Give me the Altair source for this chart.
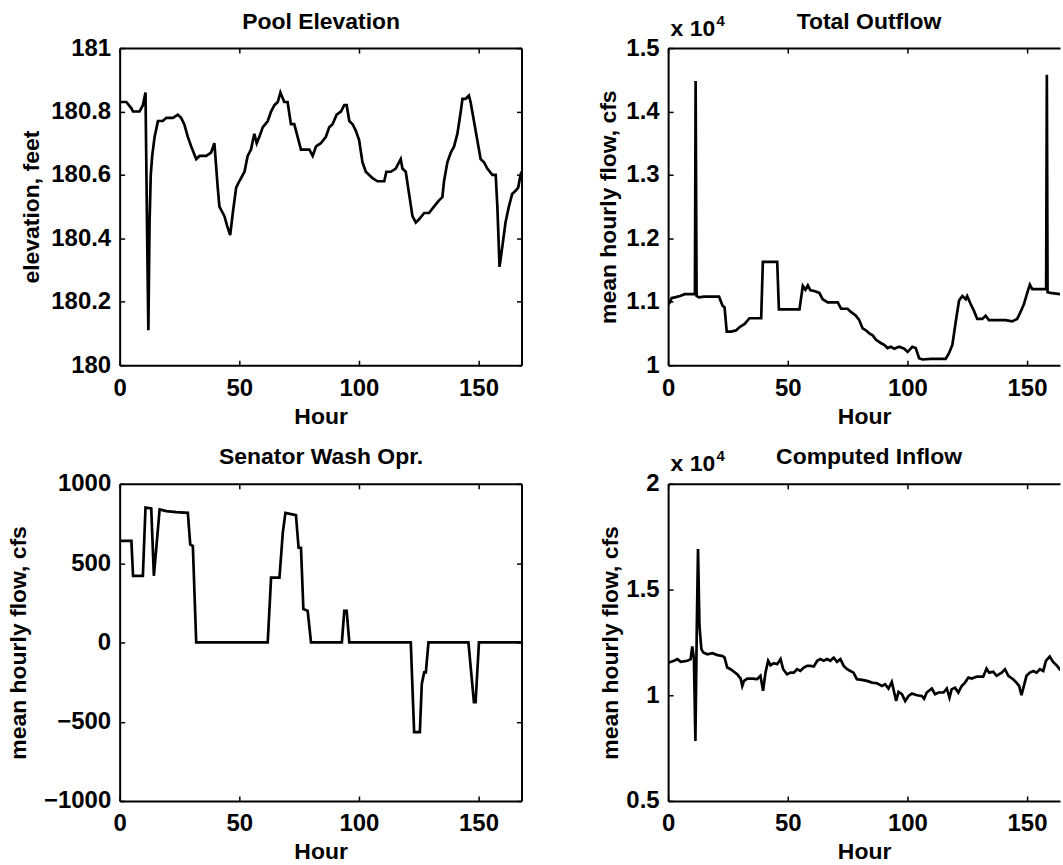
import altair as alt
import pandas as pd

# ---------------- data ----------------
pool_hours = [0.3, 2.8, 4.9, 5.6, 8.3, 9.7, 10.8, 11.5, 12.0, 12.5, 13.0, 13.6, 14.6, 16.0, 18.0,
              19.5, 22.3, 24.3, 25.7, 27.0, 28.5, 29.9, 32.0, 33.4, 36.2, 38.2, 39.6, 40.3, 41.0,
              41.7, 43.8, 44.9, 46.2, 47.3, 48.7, 50.0, 52.2, 53.5, 54.9, 56.3, 57.3, 58.4, 59.8,
              61.9, 63.3, 64.7, 66.1, 67.2, 68.8, 70.2, 71.6, 73.0, 74.4, 75.8, 77.9, 79.3, 80.7,
              82.1, 84.1, 86.2, 87.6, 89.0, 90.7, 92.5, 93.9, 94.9, 96.0, 97.4, 98.7, 100.1, 101.5,
              102.9, 104.3, 105.7, 107.8, 110.6, 111.5, 113.4, 115.4, 117.5, 118.2, 119.6, 121.0,
              122.4, 123.8, 125.2, 127.3, 129.3, 131.4, 133.5, 134.9, 135.6, 137.0, 138.4, 139.8,
              141.2, 142.6, 143.3, 144.6, 146.0, 146.7, 148.1, 149.5, 150.9, 152.3, 153.7, 155.8,
              157.2, 157.9, 158.8, 159.9, 161.3, 162.7, 164.1, 165.5, 166.6, 167.6, 168.0]
pool_elev = [180.83, 180.83, 180.81, 180.80, 180.80, 180.82, 180.86, 180.40, 180.11, 180.45, 180.60,
             180.66, 180.72, 180.77, 180.77, 180.78, 180.78, 180.79, 180.78, 180.76, 180.72, 180.69,
             180.65, 180.66, 180.66, 180.67, 180.70, 180.63, 180.56, 180.50, 180.47, 180.44, 180.41,
             180.48, 180.56, 180.58, 180.61, 180.66, 180.68, 180.73, 180.70, 180.72, 180.75, 180.77,
             180.80, 180.82, 180.83, 180.86, 180.83, 180.83, 180.76, 180.76, 180.72, 180.68, 180.68,
             180.68, 180.66, 180.69, 180.70, 180.72, 180.75, 180.76, 180.79, 180.80, 180.82, 180.82,
             180.77, 180.76, 180.74, 180.71, 180.64, 180.61, 180.60, 180.59, 180.58, 180.58, 180.61,
             180.61, 180.62, 180.65, 180.62, 180.61, 180.54, 180.47, 180.45, 180.46, 180.48, 180.48,
             180.50, 180.52, 180.53, 180.58, 180.64, 180.67, 180.69, 180.73, 180.80, 180.84, 180.84,
             180.85, 180.83, 180.77, 180.71, 180.65, 180.64, 180.62, 180.60, 180.60, 180.50, 180.31,
             180.37, 180.45, 180.50, 180.54, 180.55, 180.56, 180.60, 180.61]

outflow_hours = [0.0, 0.7, 1.5, 2.8, 5.0, 6.9, 11.2, 11.5, 11.9, 12.9, 15.0, 21.3, 22.7, 23.6, 24.5,
                 26.4, 28.5, 29.9, 32.0, 34.0, 38.9, 39.6, 45.6, 46.3, 54.9, 56.3, 57.4, 58.4, 59.5,
                 61.1, 63.2, 64.6, 66.7, 70.9, 72.3, 75.0, 76.4, 78.5, 79.9, 81.3, 82.7, 84.1, 85.5,
                 86.9, 88.9, 90.3, 91.7, 93.1, 94.5, 96.6, 98.7, 100.1, 102.1, 103.5, 104.9, 106.3,
                 109.8, 116.0, 117.4, 118.8, 120.2, 121.6, 123.0, 124.4, 125.0, 126.5, 127.8, 129.2,
                 131.3, 132.7, 134.1, 137.6, 141.0, 143.8, 145.9, 147.3, 148.7, 150.1, 151.2, 152.2,
                 155.6, 158.0, 158.3, 158.6, 159.8, 163.8]
outflow_cfs = [10960, 10990, 11060, 11070, 11090, 11120, 11120, 14480, 11090, 11070, 11080, 11080,
               10940, 10910, 10530, 10530, 10550, 10600, 10650, 10740, 10740, 11630, 11630, 10880,
               10880, 11250, 11190, 11260, 11180, 11170, 11140, 11040, 10990, 10990, 10890, 10890,
               10840, 10780, 10710, 10580, 10550, 10500, 10470, 10400, 10350, 10320, 10270, 10290,
               10260, 10290, 10260, 10210, 10290, 10270, 10110, 10090, 10100, 10100, 10190, 10320,
               10680, 11020, 11090, 11040, 11090, 10960, 10860, 10730, 10730, 10780, 10710, 10710,
               10710, 10690, 10730, 10840, 10960, 11140, 11270, 11200, 11200, 11200, 14580, 11150,
               11140, 11120]

senator_hours = [0.0, 4.9, 5.6, 9.7, 10.8, 13.2, 14.3, 16.7, 19.5, 23.6, 28.5, 29.5, 30.6, 32.0,
                 61.9, 63.3, 66.8, 68.2, 69.3, 73.7, 74.8, 75.8, 76.8, 78.6, 80.0, 92.9, 93.9, 94.9,
                 96.0, 121.7, 123.1, 125.5, 126.3, 127.3, 128.0, 129.1, 145.8, 148.1, 148.8, 150.2,
                 168.0]
senator_cfs = [640, 640, 420, 420, 850, 845, 420, 838, 828, 822, 817, 618, 608, 0,
               0, 409, 409, 692, 817, 803, 597, 597, 210, 199, 0, 0, 199, 199,
               0, 0, -566, -566, -262, -189, -189, 0, 0, -377, -377, 0,
               0]

inflow_hours = [0.0, 0.4, 2.5, 3.9, 5.3, 8.1, 9.4, 10.1, 10.8, 11.4, 12.0, 12.5, 13.1, 13.9, 14.7,
                16.4, 18.5, 20.6, 22.7, 23.6, 24.7, 26.1, 27.5, 28.9, 30.3, 31.0, 31.7, 33.1, 35.2,
                37.2, 38.6, 39.7, 40.7, 41.8, 42.8, 44.2, 45.6, 47.0, 48.1, 49.7, 51.1, 52.5, 53.9,
                55.3, 56.7, 58.1, 59.5, 60.9, 62.3, 63.6, 65.0, 66.4, 67.8, 69.2, 70.6, 72.0, 73.4,
                74.8, 76.2, 77.5, 78.9, 81.0, 83.1, 85.2, 87.3, 89.4, 90.7, 92.1, 93.5, 94.5, 95.3,
                96.3, 97.7, 99.1, 100.5, 101.9, 104.0, 106.0, 107.0, 108.1, 110.2, 111.6, 113.0,
                115.1, 116.5, 117.6, 118.5, 119.9, 121.3, 122.7, 124.1, 125.5, 126.9, 129.0, 131.7,
                133.1, 134.2, 135.9, 137.3, 139.4, 140.8, 142.2, 144.2, 145.6, 146.7, 147.7, 148.7,
                149.8, 151.2, 152.6, 154.0, 155.4, 156.8, 157.9, 159.5, 160.9, 162.6, 163.7, 164.5]
inflow_cfs = [11550, 11550, 11630, 11710, 11580, 11630, 11710, 12310, 11710, 7840, 13290, 16920,
              13290, 12180, 12020, 11940, 11990, 11900, 11860, 11780, 11310, 11230, 11110, 10990,
              10790, 10440, 10680, 10790, 10790, 10760, 10920, 10210, 11070, 11630, 11420, 11520,
              11470, 11710, 11230, 10990, 11070, 11070, 11230, 11150, 11310, 11390, 11390, 11360,
              11630, 11710, 11630, 11710, 11630, 11780, 11580, 11710, 11390, 11230, 11150, 11070,
              10760, 10730, 10680, 10600, 10570, 10440, 10520, 10320, 10630, 10130, 9730, 10160,
              10050, 9730, 9970, 10080, 10000, 9970, 9840, 10130, 10320, 10050, 10130, 10130,
              10320, 9890, 10280, 10360, 10130, 10440, 10600, 10840, 10790, 10880, 10880, 11260,
              11070, 11110, 10920, 11070, 11230, 10920, 10760, 10600, 10440, 10000, 10440, 10920,
              11070, 11150, 11070, 11230, 11150, 11630, 11830, 11580, 11390, 11230, 11150]

x_ticks = [0, 50, 100, 150]
pool_ticks = [180, 180.2, 180.4, 180.6, 180.8, 181]
outflow_ticks = [10000, 11000, 12000, 13000, 14000, 15000]
senator_ticks = [-1000, -500, 0, 500, 1000]
inflow_ticks = [5000, 10000, 15000, 20000]

FONT = "Liberation Sans"
LABEL_FS = 24
TITLE_FS = 23
WEIGHT = "bold"
BLACK = "black"
PANEL_H = 318


def table(hours, vals):
    return pd.DataFrame({"h": hours, "v": vals, "i": list(range(len(hours)))})


def style(**kw):
    d = dict(grid=False, labelFont=FONT, labelFontSize=LABEL_FS, labelColor=BLACK,
             labelFontWeight=WEIGHT,
             titleFont=FONT, titleFontSize=TITLE_FS, titleColor=BLACK, titleFontWeight=WEIGHT,
             domainColor=BLACK, domainWidth=2, tickColor=BLACK, tickWidth=1.5)
    d.update(kw)
    return alt.Axis(**d)


def make_panel(df, title, title_x, ydom, yticks, ytitle, ytitle_x, xmax, width, label_expr,
               full_frame, sci):
    xs = alt.Scale(domain=[0, xmax], nice=False, zero=False)
    ys = alt.Scale(domain=ydom, nice=False, zero=False)
    base = alt.Chart(df)
    order = alt.Order("i:Q")

    # A: the data line with labelled axes and left/bottom frame lines
    a = base.mark_line(color=BLACK, strokeWidth=2.7, clip=True).encode(
        x=alt.X("h:Q", scale=xs, axis=style(
            orient="bottom", values=x_ticks, ticks=False, domain=True, labelPadding=11,
            labelFlush=False, labelOverlap=False, title="Hour", titleY=51,
            titleBaseline="middle")),
        y=alt.Y("v:Q", scale=ys, axis=style(
            orient="left", values=yticks, ticks=False, domain=True, labelPadding=9,
            labelFlush=False, labelOverlap=False, labelExpr=label_expr, title=ytitle,
            titleX=ytitle_x, titleBaseline="middle")),
        order=order,
    )

    # B: inward ticks on the bottom and left sides
    b = base.mark_line(strokeOpacity=0).encode(
        x=alt.X("h:Q", scale=xs, axis=style(
            orient="bottom", offset=-5, values=x_ticks, ticks=True, tickSize=5,
            domain=False, labels=False, title=None)),
        y=alt.Y("v:Q", scale=ys, axis=style(
            orient="left", offset=-5, values=yticks, ticks=True, tickSize=5,
            domain=False, labels=False, title=None)),
        order=order,
    )

    # C: inward ticks on the top (and right) sides; carries the "x 10" multiplier
    top_c = dict(orient="top", offset=-5, values=x_ticks, ticks=True, tickSize=5,
                 domain=False, labels=False)
    if sci:
        top_c.update(title="x 10", titleX=2, titleY=-25, titleAlign="left", titleAngle=0,
                     titleBaseline="middle")
    else:
        top_c.update(title=None)
    if full_frame:
        yc = alt.Y("v:Q", scale=ys, axis=style(
            orient="right", offset=-5, values=yticks, ticks=True, tickSize=5,
            domain=False, labels=False, title=None))
    else:
        yc = alt.Y("v:Q", scale=ys, axis=None)
    c = base.mark_line(strokeOpacity=0).encode(
        x=alt.X("h:Q", scale=xs, axis=style(**top_c)), y=yc, order=order)

    # D: top (and right) frame lines; carries the panel title
    top_d = dict(orient="top", ticks=False, domain=True, labels=False, title=title,
                 titleX=title_x, titleY=-27, titleAlign="center", titleAngle=0,
                 titleBaseline="middle")
    if full_frame:
        yd = alt.Y("v:Q", scale=ys, axis=style(
            orient="right", ticks=False, domain=True, labels=False, title=None))
    else:
        yd = alt.Y("v:Q", scale=ys, axis=None)
    d = base.mark_line(strokeOpacity=0).encode(
        x=alt.X("h:Q", scale=xs, axis=style(**top_d)), y=yd, order=order)

    layers = [a, b, c, d]
    if sci:
        e = base.mark_line(strokeOpacity=0).encode(
            x=alt.X("h:Q", scale=xs, axis=style(
                orient="top", ticks=False, domain=False, labels=False, title="4",
                titleX=48, titleY=-28, titleAlign="left", titleAngle=0,
                titleBaseline="middle", titleFontSize=15)),
            y=alt.Y("v:Q", scale=ys, axis=None),
            order=order,
        )
        layers.append(e)

    return alt.layer(*layers).resolve_axis(x="independent", y="independent").properties(
        width=width, height=PANEL_H)


p1 = make_panel(table(pool_hours, pool_elev), "Pool Elevation", 201.5, [180, 181], pool_ticks,
                "elevation, feet", -88, 168, 403, "toString(datum.value)", True, False)
p2 = make_panel(table(outflow_hours, outflow_cfs), "Total Outflow", 201, [10000, 15000],
                outflow_ticks, "mean hourly flow, cfs", -60, 163.8, 393,
                "toString(datum.value / 10000)", False, True)
p3 = make_panel(table(senator_hours, senator_cfs), "Senator Wash Opr.", 201.5, [-1000, 1000],
                senator_ticks, "mean hourly flow, cfs", -101, 168, 403,
                "datum.value < 0 ? '\u2212' + toString(-datum.value) : toString(datum.value)",
                True, False)
p4 = make_panel(table(inflow_hours, inflow_cfs), "Computed Inflow", 201, [5000, 20000],
                inflow_ticks, "mean hourly flow, cfs", -58, 163.8, 393,
                "toString(datum.value / 10000)", False, True)

chart = alt.concat(p1, p2, p3, p4, columns=2, spacing={"row": 119, "column": 147},
                   bounds="flush").properties(
    padding={"left": 7, "top": 8, "right": 0, "bottom": 0},
    background="white",
).configure_view(stroke="transparent")

chart.save("out.html", embed_options={"renderer": "svg", "actions": False})
